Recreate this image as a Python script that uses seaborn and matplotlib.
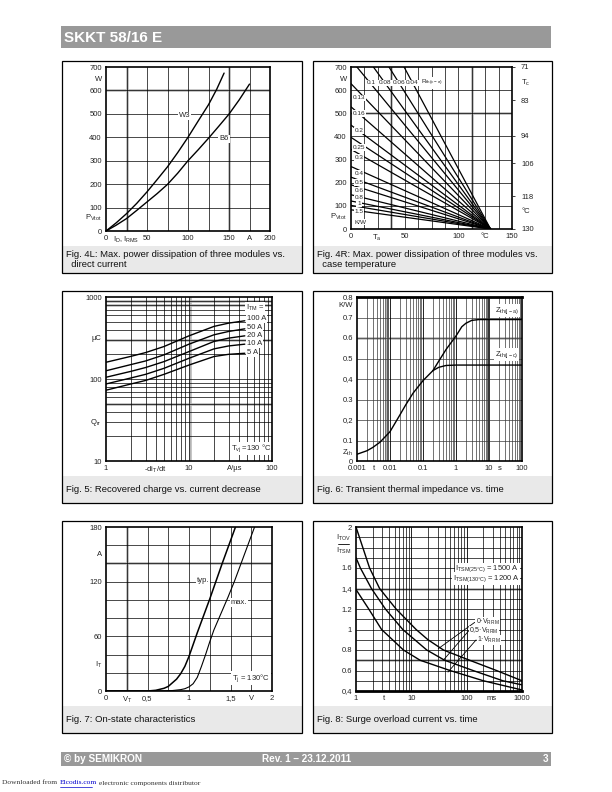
import matplotlib
matplotlib.use('Agg')
import matplotlib.pyplot as plt
from matplotlib.patches import Rectangle
from matplotlib.lines import Line2D
import numpy as np
import seaborn as sns

sns.set_theme(style='white')
plt.rcParams['font.family'] = ['Liberation Sans', 'DejaVu Sans']
plt.rcParams['mathtext.fontset'] = 'custom'
plt.rcParams['mathtext.rm'] = 'Liberation Sans'
plt.rcParams['mathtext.it'] = 'Liberation Sans'
plt.rcParams['mathtext.bf'] = 'Liberation Sans:bold'

# ---- data ----
# Fig. 4L
cur_w3 = [0, 12.5, 25, 37.5, 50, 62.5, 75, 87.5, 100, 112.5, 125, 135, 144]
p_w3 = [0, 35, 74, 118, 167, 220, 274, 335, 400, 470, 539, 605, 674]
cur_b6 = [0, 12.5, 25, 37.5, 50, 62.5, 75, 87.5, 100, 112.5, 125, 137.5, 150, 162.5, 175]
p_b6 = [0, 25, 53, 88, 124, 160, 199, 247, 300, 347, 396, 447, 499, 560, 627]

# Fig. 4R: power at Ta = 0 for each Rth(c-a), all lines end at 130 degC / 0 W
rth_names = ['0.04', '0.06', '0.08', '0.1', '0.13', '0.16', '0.2', '0.25', '0.3',
             '0.4', '0.5', '0.6', '0.8', '1', '1.2', '1.5']
p_at_ta0 = [1130, 962, 834, 731, 628, 528, 449, 396, 344, 270, 224, 191, 148, 121, 102, 83]
ta_end = 130
tc_ticks = ['71', '83', '94', '106', '118', '130']
tc_pos = [700, 557, 403, 285, 142, 0]

# Fig. 5
didt = [1, 2, 3, 5, 10, 20, 30, 47]
qrr = {
    '100 A': [160, 189, 210, 249, 336, 438, 480, 513],
    '50 A': [126, 150, 166, 197, 266, 346, 380, 409],
    '20 A': [105, 124, 138, 163, 216, 287, 315, 336],
    '10 A': [87, 103, 114, 135, 179, 233, 253, 266],
    '5 A': [73, 87, 96, 114, 148, 188, 200, 206],
}

# Fig. 6
t_common = [0.001, 0.002, 0.003, 0.005, 0.01, 0.02, 0.03, 0.05, 0.1, 0.2]
z_common = [0.033, 0.05, 0.066, 0.092, 0.143, 0.225, 0.274, 0.331, 0.392, 0.441]
t_jc = [0.2, 0.3, 0.5, 1, 100]
z_jc = [0.441, 0.457, 0.466, 0.468, 0.468]
t_ja = [0.2, 0.3, 0.5, 1, 1.5, 2, 3, 5, 100]
z_ja = [0.441, 0.487, 0.544, 0.61, 0.655, 0.672, 0.686, 0.69, 0.69]

# Fig. 7
vt_typ = [0, 0.5, 0.6, 0.7, 0.75, 0.8, 0.85, 0.9, 0.95, 1.0, 1.05, 1.1, 1.25, 1.4, 1.56]
it_typ = [0, 0, 0.8, 3, 5, 9, 13, 19, 27, 38, 51, 64, 101, 140, 180]
vt_max = [0, 0.6, 0.8, 0.9, 0.95, 1.0, 1.05, 1.1, 1.15, 1.2, 1.25, 1.3, 1.47, 1.55, 1.79]
it_max = [0, 0, 0.5, 1.5, 2.5, 4.5, 8, 15, 27, 40, 54, 67, 103, 121, 180]

# Fig. 8
t_v0 = [1, 1.76, 2.67, 5.3, 12.2, 20, 38, 113, 345, 1000]
r_v0 = [2.0, 1.6, 1.4, 1.2, 1.0, 0.9, 0.8, 0.7, 0.6, 0.5]
t_v05 = [1, 1.2, 1.9, 3.4, 7, 19, 40, 130, 450, 1000]
r_v05 = [1.7, 1.6, 1.4, 1.2, 1.0, 0.8, 0.7, 0.6, 0.5, 0.46]
t_v1 = [1, 1.7, 2.9, 7.2, 14.4, 50, 200, 1000]
r_v1 = [1.39, 1.2, 1.0, 0.8, 0.7, 0.6, 0.5, 0.41]

captions = [
    'Fig. 4L: Max. power dissipation of three modules vs.\n  direct current',
    'Fig. 4R: Max. power dissipation of three modules vs.\n  case temperature',
    'Fig. 5: Recovered charge vs. current decrease',
    'Fig. 6: Transient thermal impedance vs. time',
    'Fig. 7: On-state characteristics',
    'Fig. 8: Surge overload current vs. time',
]

W, H = 612, 792
GRAY = '#b4b4b4'
lab_bg = dict(boxstyle='square,pad=0.12', fc='white', ec='none')
tight_bg = dict(boxstyle='square,pad=0.03', fc='white', ec='none')
fs_tick = 5.5


def rect(x0, y0, x1, y1):
    return [x0 / W, 1 - y1 / H, (x1 - x0) / W, (y1 - y0) / H]


def fig_rect(x0, y0, x1, y1, **kw):
    fig.patches.append(Rectangle((x0 / W, 1 - y1 / H), (x1 - x0) / W, (y1 - y0) / H,
                                 transform=fig.transFigure, **kw))


def grid(ax, xs=(), ys=(), gx=(), gy=(), lw=0.5, color='black'):
    for v in gx:
        ax.axvline(v, color=GRAY, lw=1.8, zorder=0.8)
    for v in gy:
        ax.axhline(v, color=GRAY, lw=1.8, zorder=0.8)
    for v in xs:
        ax.axvline(v, color=color, lw=lw, zorder=1)
    for v in ys:
        ax.axhline(v, color=color, lw=lw, zorder=1)


def style(ax):
    for sp in ax.spines.values():
        sp.set_color('black')
        sp.set_linewidth(1.2)
        sp.set_zorder(5)
    ax.tick_params(length=0, labelsize=fs_tick, pad=3, colors='#222222')
    ax.set_xlabel('')
    ax.set_ylabel('')


def curve(ax, x, y, lw=1.0):
    sns.lineplot(x=x, y=y, ax=ax, color='black', lw=lw, estimator=None, sort=False, zorder=3)


def log_minors(lo, hi):
    out = []
    d = lo
    while d < hi:
        out += [k * d for k in range(2, 10)]
        d *= 10
    return out


fig = plt.figure(figsize=(6.12, 7.92), dpi=100)

# header / footer
fig_rect(61, 26, 551, 48, color='#999999', lw=0)
fig.text(64 / W, 1 - 37.5 / H, 'SKKT 58/16 E', color='white', fontsize=11,
         fontweight='bold', va='center')
fig_rect(61, 752, 551, 766, color='#999999', lw=0)
fig.text(64 / W, 1 - 759 / H, '© by SEMIKRON', color='white', fontsize=7.2,
         fontweight='bold', va='center')
fig.text(307 / W, 1 - 759 / H, 'Rev. 1 – 23.12.2011', color='white', fontsize=7.2,
         fontweight='bold', va='center', ha='center')
fig.text(548 / W, 1 - 759 / H, '3', color='white', fontsize=7.2,
         fontweight='bold', va='center', ha='right')
fig.text(2 / W, 1 - 783 / H, 'Downloaded from', fontsize=5.4, family='Liberation Serif',
         color='#333333', va='center')
fig.text(60 / W, 1 - 783 / H, 'Elcodis.com', fontsize=5.4, family='Liberation Serif',
         color='#0000cc', va='center')
fig.add_artist(Line2D([60 / W, 92 / W], [1 - 786.5 / H] * 2, color='#0000cc', lw=0.5))
fig.text(99 / W, 1 - 783 / H, 'electronic components distributor', fontsize=5.4,
         family='Liberation Serif', color='#333333', va='center')

# panel boxes and captions
box_x = [(62, 302), (313, 552)]
box_y = [61, 291, 521]
for r, y0 in enumerate(box_y):
    for c, (x0, x1) in enumerate(box_x):
        fig_rect(x0, y0 + 185, x1, y0 + 212, color='#e9e9e9', lw=0)
        fig_rect(x0, y0, x1, y0 + 212, fill=False, ec='black', lw=0.9)
        cap = captions[r * 2 + c]
        ty = y0 + 198.5
        fig.text((x0 + 4) / W, 1 - ty / H, cap, fontsize=6.8, va='center',
                 linespacing=1.25, color='#111111')

# ---- Fig. 4L ----
ax = fig.add_axes(rect(106, 67, 270, 231))
grid(ax, xs=np.arange(25, 200, 25), ys=np.arange(100, 700, 100), gx=[25, 150], gy=[600])
curve(ax, cur_w3, p_w3)
curve(ax, cur_b6, p_b6)
ax.text(96, 491, 'W3', fontsize=fs_tick, ha='center', va='center', bbox=lab_bg, zorder=4)
ax.text(144, 393, 'B6', fontsize=fs_tick, ha='center', va='center', bbox=lab_bg, zorder=4)
ax.set_xlim(0, 200)
ax.set_ylim(0, 700)
ax.set_xticks([0, 24, 50, 100, 150, 175, 200],
              ['0', r'I$_D$, I$_{RMS}$', '50', '100', '150', 'A', '200'])
ax.set_yticks([0, 62, 100, 200, 300, 400, 500, 600, 650, 700],
              ['0', r'P$_{Vtot}$', '100', '200', '300', '400', '500', '600', 'W', '700'])
style(ax)

# ---- Fig. 4R ----
ax = fig.add_axes(rect(351, 67, 512, 229))
grid(ax, xs=np.arange(12.5, 150, 12.5), ys=np.arange(100, 700, 100),
     gx=[37.5, 112.5], gy=[500])
for p0 in p_at_ta0:
    curve(ax, [0, ta_end], [p0, 0], lw=0.9)
top_lab = [('0.1', 19), ('0.08', 31.7), ('0.06', 44.5), ('0.04', 57)]
for s, xv in top_lab:
    ax.text(xv, 631, s, fontsize=4.6, ha='center', va='center', bbox=lab_bg, zorder=4)
ax.text(75, 631, r'R$_{th(c-a)}$', fontsize=4.6, ha='center', va='center', bbox=lab_bg, zorder=4)
side_lab = [('0.13', 567), ('0.16', 499), ('0.2', 425), ('0.25', 352), ('0.3', 308),
            ('0.4', 241), ('0.5', 201), ('0.6', 166), ('0.8', 134), ('1', 109), ('1.5', 76)]
for s, yv in side_lab:
    ax.text(7.5, yv, s, fontsize=4.6, ha='center', va='center', bbox=lab_bg, zorder=4)
ax.text(8.5, 30, 'K/W', fontsize=4.6, ha='center', va='center', bbox=lab_bg, zorder=4)
ax.set_xlim(0, 150)
ax.set_ylim(0, 700)
ax.set_xticks([0, 24, 50, 100, 125, 150], ['0', r'T$_a$', '50', '100', '°C', '150'])
ax.set_yticks([0, 61, 100, 200, 300, 400, 500, 600, 650, 700],
              ['0', r'P$_{Vtot}$', '100', '200', '300', '400', '500', '600', 'W', '700'])
style(ax)
axr = ax.twinx()
axr.set_ylim(0, 700)
axr.set_yticks(tc_pos, tc_ticks)
axr.set_yticks([640, 80], [r'T$_c$', '°C'], minor=True)
axr.tick_params(which='major', length=2.5, width=0.6, labelsize=fs_tick, pad=4, colors='#222222')
axr.tick_params(which='minor', length=0, labelsize=fs_tick, pad=6.5, colors='#222222')
axr.grid(False)
for sp in axr.spines.values():
    sp.set_visible(False)

# ---- Fig. 5 ----
ax = fig.add_axes(rect(106, 297, 272, 461))
grid(ax, xs=log_minors(1, 100) + [10], ys=log_minors(10, 1000) + [100],
     gx=[10.4], gy=[50, 300, 800, 900])
for name, vals in qrr.items():
    curve(ax, didt, vals)
ax.set_xscale('log')
ax.set_yscale('log')
ax.text(62, 733, r'I$_{TM}$ =', fontsize=fs_tick, ha='center', va='center', bbox=lab_bg, zorder=4)
lab_y = {'100 A': 553, '50 A': 425, '20 A': 339, '10 A': 271, '5 A': 210}
for name, yv in lab_y.items():
    ax.text(50, yv, name, fontsize=fs_tick, ha='left', va='center', bbox=lab_bg, zorder=4)
ax.text(56, 14.2, r'T$_{vj}$ =130 °C', fontsize=fs_tick, ha='center', va='center',
        bbox=lab_bg, zorder=4)
ax.set_xlim(1, 100)
ax.set_ylim(10, 1000)
ax.set_xticks([1, 3.9, 10, 35.6, 100], ['1', r'-di$_T$/dt', '10', 'A/µs', '100'])
ax.set_yticks([10, 31, 100, 320, 1000], ['10', r'Q$_{rr}$', '100', 'µC', '1000'])
ax.minorticks_off()
style(ax)

# ---- Fig. 6 ----
ax = fig.add_axes(rect(357, 297, 522, 461))
ax.axvspan(0.0074, 0.0095, color=GRAY, lw=0, zorder=0.8)
grid(ax, xs=log_minors(0.001, 100), ys=np.arange(0.1, 0.8, 0.1), gy=[0.6],
     color='#3a3a3a', lw=0.5)
grid(ax, xs=[0.01, 0.1, 1], lw=0.6)
ax.axvline(10, color='#333333', lw=1.4, zorder=1)
curve(ax, t_common, z_common)
curve(ax, t_jc, z_jc)
curve(ax, t_ja, z_ja)
ax.set_xscale('log')
ax.text(35, 0.733, r'Z$_{th(j-a)}$', fontsize=fs_tick, ha='center', va='center',
        bbox=lab_bg, zorder=4)
ax.text(35, 0.518, r'Z$_{th(j-c)}$', fontsize=fs_tick, ha='center', va='center',
        bbox=lab_bg, zorder=4)
ax.set_xlim(0.001, 100)
ax.set_ylim(0, 0.8)
ax.set_xticks([0.001, 0.0032, 0.01, 0.1, 1, 10, 21, 100],
              ['0.001', 't', '0.01', '0.1', '1', '10', 's', '100'])
ax.set_yticks([0, 0.049, 0.1, 0.2, 0.3, 0.4, 0.5, 0.6, 0.7, 0.765, 0.8],
              ['0', r'Z$_{th}$', '0.1', '0,2', '0.3', '0,4', '0.5', '0.6', '0.7', 'K/W', '0.8'])
ax.minorticks_off()
style(ax)
ax.spines['top'].set_linewidth(2)

# ---- Fig. 7 ----
ax = fig.add_axes(rect(106, 527, 272, 691))
grid(ax, xs=np.arange(0.25, 2, 0.25), ys=np.arange(20, 180, 20), gx=[0.25], gy=[140])
curve(ax, vt_typ, it_typ, lw=1.1)
curve(ax, vt_max, it_max, lw=0.8)
ax.text(1.17, 121, 'typ.', fontsize=fs_tick, ha='center', va='center', bbox=lab_bg, zorder=4)
ax.text(1.60, 97, 'max.', fontsize=fs_tick, ha='center', va='center', bbox=lab_bg, zorder=4)
ax.text(1.75, 14, r'T$_j$ = 130°C', fontsize=fs_tick, ha='center', va='center',
        bbox=lab_bg, zorder=4)
ax.set_xlim(0, 2)
ax.set_ylim(0, 180)
ax.set_xticks([0, 0.25, 0.5, 1, 1.5, 1.75, 2], ['0', r'V$_T$', '0,5', '1', '1,5', 'V', '2'])
ax.set_yticks([0, 30, 60, 120, 151, 180], ['0', r'I$_T$', '60', '120', 'A', '180'])
style(ax)

# ---- Fig. 8 ----
ax = fig.add_axes(rect(356, 527, 522, 691))
grid(ax, xs=log_minors(1, 1000), ys=np.arange(0.5, 2.0, 0.1), gy=[0.7, 1.4])
grid(ax, xs=[10, 100], lw=0.6)
curve(ax, t_v0, r_v0)
curve(ax, t_v05, r_v05)
curve(ax, t_v1, r_v1)
ax.set_xscale('log')
ax.text(900, 1.59, r'I$_{TSM(25°C)}$ = 1500 A', fontsize=fs_tick, ha='right', va='center',
        bbox=lab_bg, zorder=4)
ax.text(900, 1.50, r'I$_{TSM(130°C)}$ = 1200 A', fontsize=fs_tick, ha='right', va='center',
        bbox=lab_bg, zorder=4)
leaders = [((30.7, 0.813), (140, 1.07), '0·V$_{RRM}$'),
           ((37.8, 0.70), (108, 0.985), '0,5·V$_{RRM}$'),
           ((46, 0.585), (148, 0.898), '1·V$_{RRM}$')]
for (xa, ya), (xb, yb), s in leaders:
    ax.plot([xa, xb], [ya, yb], color='black', lw=0.6, zorder=3)
    ax.text(xb * 1.04, yb, s, fontsize=5.0, ha='left', va='center', bbox=tight_bg, zorder=4)
ax.set_xlim(1, 1000)
ax.set_ylim(0.4, 2)
ax.set_xticks([1, 3.2, 10, 100, 280, 1000], ['1', 't', '10', '100', 'ms', '1000'])
ax.set_yticks([0.4, 0.6, 0.8, 1, 1.2, 1.4, 1.6, 2],
              ['0,4', '0.6', '0.8', '1', '1.2', '1,4', '1.6', '2'])
ax.minorticks_off()
style(ax)
ax.spines['bottom'].set_linewidth(2)
ax.text(-0.075, 0.935, r'I$_{TOV}$', transform=ax.transAxes, fontsize=fs_tick,
        ha='center', va='center')
ax.text(-0.075, 0.855, r'I$_{TSM}$', transform=ax.transAxes, fontsize=fs_tick,
        ha='center', va='center')
ax.plot([-0.11, -0.04], [0.895, 0.895], transform=ax.transAxes, color='black', lw=0.6,
        clip_on=False)

fig.savefig('out.png', dpi=100)
